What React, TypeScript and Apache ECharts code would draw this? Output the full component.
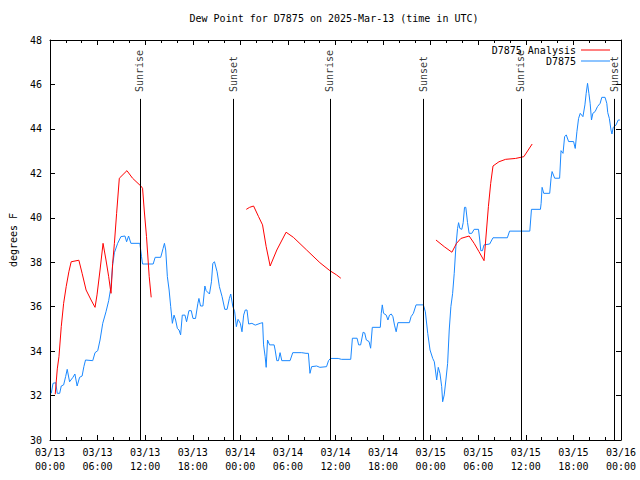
import React, { useEffect, useRef } from 'react';
import * as echarts from 'echarts';

// Hours since 2025-03-13 00:00 UTC, dew point in °F
const dewPointObs: [number, number][] = [
  [0.16, 32.1], [0.38, 32.55], [0.72, 32.58], [0.92, 32.1], [1.22, 32.1], [1.42, 32.43], [1.72, 32.48],
  [1.97, 32.85], [2.17, 33.18], [2.47, 32.62], [2.89, 32.82], [3.14, 32.97], [3.42, 32.43], [3.73, 32.82],
  [4.05, 32.88], [4.27, 33.3], [4.48, 33.6], [5.39, 33.57], [5.68, 33.93], [6.02, 34.02], [6.31, 34.5],
  [6.65, 35.25], [7.06, 35.77], [7.4, 36.27], [7.69, 36.9], [7.9, 37.88], [8.12, 38.43], [8.53, 38.85],
  [8.94, 39.15], [9.45, 39.18], [9.66, 38.92], [9.91, 39.18], [10.2, 38.85], [11.33, 38.85], [11.54, 38.25],
  [11.67, 37.92], [11.88, 37.92], [13.01, 37.92], [13.26, 38.22], [13.96, 38.22], [14.26, 38.62], [14.43, 38.85],
  [14.59, 38.55], [14.8, 37.35], [15.02, 36.75], [15.22, 36.0], [15.43, 35.25], [15.64, 35.62], [15.84, 35.4],
  [16.06, 35.02], [16.27, 34.95], [16.47, 34.73], [16.68, 35.62], [17.02, 35.62], [17.22, 35.32], [17.52, 35.82],
  [17.81, 35.82], [18.03, 35.47], [18.35, 35.47], [18.65, 36.15], [18.78, 36.37], [18.98, 36.03], [19.28, 36.03],
  [19.53, 36.93], [19.69, 36.72], [20.11, 36.57], [20.36, 37.12], [20.53, 37.95], [20.74, 38.02], [21.07, 37.57],
  [21.36, 36.9], [21.7, 36.45], [22.04, 35.88], [22.33, 35.88], [22.62, 36.37], [22.79, 36.57], [23.04, 36.03],
  [23.29, 35.77], [23.5, 35.1], [23.71, 35.43], [24.0, 35.25], [24.21, 34.87], [24.42, 35.62], [24.62, 35.85],
  [24.84, 35.85], [25.05, 35.22], [25.46, 35.25], [25.88, 35.17], [26.51, 35.25], [26.81, 35.28], [26.93, 34.28],
  [27.13, 33.75], [27.26, 33.27], [27.43, 34.5], [27.69, 34.28], [28.26, 34.28], [28.39, 34.05], [28.6, 33.57],
  [28.81, 33.57], [29.01, 33.93], [29.23, 33.57], [30.27, 33.57], [30.61, 33.93], [31.74, 33.93], [32.28, 33.9],
  [32.58, 33.9], [32.78, 33.0], [32.99, 33.3], [33.62, 33.33], [34.03, 33.27], [34.87, 33.3], [35.12, 33.57],
  [35.37, 33.67], [36.34, 33.67], [36.75, 33.63], [37.92, 33.63], [38.13, 34.58], [38.72, 34.58], [38.92, 34.28],
  [39.17, 34.28], [39.48, 34.85], [39.68, 34.82], [39.89, 34.5], [40.23, 34.43], [40.43, 34.13], [40.64, 35.07],
  [41.65, 35.07], [41.77, 35.7], [41.9, 36.08], [42.06, 35.7], [42.4, 35.62], [42.61, 35.4], [42.81, 35.62],
  [43.03, 35.67], [43.24, 35.55], [43.44, 35.17], [43.65, 34.87], [43.87, 35.28], [45.32, 35.28], [45.53, 35.55],
  [45.82, 35.7], [46.16, 36.08], [47.08, 36.08], [47.33, 35.77], [47.63, 34.8], [47.92, 34.05], [48.26, 33.67],
  [48.46, 33.52], [48.76, 32.7], [48.96, 33.27], [49.17, 33.0], [49.39, 32.4], [49.51, 31.72], [49.71, 32.03],
  [49.92, 32.7], [50.14, 33.45], [50.34, 34.95], [50.55, 36.0], [50.77, 36.6], [50.97, 37.5], [51.18, 38.7],
  [51.39, 39.52], [51.52, 39.78], [51.68, 39.52], [51.93, 39.48], [52.1, 39.78], [52.27, 40.47], [52.43, 40.47],
  [52.65, 39.78], [52.85, 39.3], [53.19, 39.3], [53.48, 39.48], [54.03, 39.48], [54.19, 39.0], [54.32, 38.52],
  [54.53, 38.52], [54.73, 38.78], [55.44, 38.82], [55.86, 39.1], [57.67, 39.1], [57.95, 39.4], [60.5, 39.4],
  [60.71, 40.38], [61.84, 40.38], [61.93, 40.65], [62.05, 41.37], [62.26, 41.1], [63.01, 41.1], [63.18, 41.78],
  [63.31, 42.08], [63.64, 41.78], [64.26, 41.78], [64.44, 43.02], [64.69, 42.9], [64.89, 43.65], [65.1, 43.73],
  [65.39, 43.43], [66.02, 43.43], [66.23, 43.12], [66.44, 43.87], [66.65, 44.47], [66.86, 44.7], [67.2, 44.55],
  [67.45, 45.08], [67.61, 45.6], [67.78, 46.05], [67.95, 45.6], [68.11, 45.15], [68.28, 44.4], [68.45, 44.7],
  [68.74, 44.78], [69.03, 45.0], [69.37, 45.15], [69.58, 45.42], [69.99, 45.42], [70.21, 45.15], [70.33, 44.73],
  [70.53, 44.47], [70.74, 43.95], [70.86, 43.77], [71.02, 44.07], [71.36, 44.17], [71.65, 44.4], [71.86, 44.4],
];

const analysisRun1: [number, number][] = [
  [0.66, 32.06], [0.92, 33.2], [1.13, 33.75], [1.42, 35.1], [1.72, 36.15], [2.04, 36.9], [2.38, 37.57],
  [2.67, 38.02], [3.64, 38.09], [4.05, 37.5], [4.55, 36.75], [5.18, 36.3], [5.68, 35.97], [5.93, 36.53],
  [6.31, 37.65], [6.69, 38.85], [7.06, 38.1], [7.4, 37.35], [7.69, 36.6], [7.9, 37.95], [8.12, 38.85],
  [8.4, 40.2], [8.74, 41.78], [9.7, 42.12], [10.41, 41.78], [11.45, 41.43], [11.67, 41.33], [11.88, 40.35],
  [12.17, 39.15], [12.51, 37.35], [12.76, 36.42],
];

const analysisRun2: [number, number][] = [
  [24.75, 40.38], [25.17, 40.47], [25.67, 40.53], [26.3, 40.05], [26.8, 39.68], [27.26, 38.7], [27.76, 37.83],
  [28.6, 38.55], [29.77, 39.35], [30.69, 39.12], [32.36, 38.55], [34.03, 37.98], [35.29, 37.62], [36.13, 37.43],
  [36.67, 37.28],
];

const analysisRun3: [number, number][] = [
  [48.67, 39.0], [49.71, 38.7], [50.68, 38.45], [51.26, 38.85], [51.81, 39.07], [52.85, 39.18], [53.48, 38.85],
  [54.1, 38.47], [54.73, 38.07], [54.94, 39.0], [55.28, 40.5], [55.57, 41.55], [55.86, 42.33], [56.61, 42.52],
  [57.45, 42.63], [58.7, 42.67], [59.75, 42.75], [60.8, 43.32],
];

const sunriseHours = [11.33, 35.29, 59.37];
const sunsetHours = [23.12, 47.08, 71.16];
const sunLineTop = 45.35;
const sunLabelBase = 45.66;

const titleText = 'Dew Point for D7875 on 2025-Mar-13 (time in UTC)';
const yName = 'degrees F';
const analysisName = 'D7875 Analysis';
const obsName = 'D7875';

const MONO = '"DejaVu Sans Mono", "Liberation Mono", monospace';

function xLabel(v: number): string {
  const day = 13 + Math.floor(v / 24 + 1e-9);
  const hh = Math.round(v - (day - 13) * 24);
  return `03/${day}\n${String(hh).padStart(2, '0')}:00`;
}

export default function App() {
  const ref = useRef<HTMLDivElement>(null);
  useEffect(() => {
    if (!ref.current) return;
    const chart = echarts.init(ref.current, null, { renderer: 'svg' });
    const axisLine = { show: true, onZero: false, lineStyle: { color: '#000', width: 1 } };
    const xCommon = {
      type: 'value' as const,
      min: 0,
      max: 72,
      interval: 6,
      axisLine,
      axisTick: { show: true, inside: true, length: 5, lineStyle: { color: '#000' } },
      minorTick: { show: true, splitNumber: 3, length: 3, lineStyle: { color: '#000' } },
      splitLine: { show: false },
    };
    const yCommon = {
      type: 'value' as const,
      min: 30,
      max: 48,
      interval: 2,
      axisLine,
      axisTick: { show: true, inside: true, length: 5, lineStyle: { color: '#000' } },
      splitLine: { show: false },
    };
    const sunLines = [
      ...sunriseHours.map((h) => [{ coord: [h, 30] }, { coord: [h, sunLineTop] }]),
      ...sunsetHours.map((h) => [{ coord: [h, 30] }, { coord: [h, sunLineTop] }]),
    ];
    const sunLabels = [
      ...sunriseHours.map((h) => [h, sunLabelBase, 'Sunrise']),
      ...sunsetHours.map((h) => [h, sunLabelBase, 'Sunset']),
    ];
    const lineBase = {
      type: 'line' as const,
      symbol: 'none',
      showSymbol: false,
      silent: true,
      xAxisIndex: 0,
      yAxisIndex: 0,
    };
    chart.setOption({
      animation: false,
      backgroundColor: '#fff',
      textStyle: { fontFamily: MONO },
      title: {
        text: titleText,
        left: 334,
        textAlign: 'center',
        top: 13,
        padding: 0,
        textStyle: { fontFamily: MONO, fontSize: 10, fontWeight: 'normal', color: '#000' },
      },
      legend: {
        data: [
          { name: analysisName, icon: 'rect' },
          { name: obsName, icon: 'rect' },
        ],
        orient: 'vertical',
        right: 30,
        top: 45,
        align: 'right',
        itemWidth: 29,
        itemHeight: 1,
        itemGap: 1,
        padding: 0,
        selectedMode: false,
        textStyle: { fontFamily: MONO, fontSize: 10, color: '#000' },
      },
      grid: { left: 47, right: 19, top: 40, bottom: 40, containLabel: false },
      xAxis: [
        {
          ...xCommon,
          position: 'bottom',
          axisLabel: {
            show: true,
            formatter: xLabel,
            fontFamily: MONO,
            fontSize: 10,
            color: '#000',
            lineHeight: 14,
            margin: 5,
            showMaxLabel: true,
            showMinLabel: true,
          },
        },
        { ...xCommon, position: 'top', axisLabel: { show: false } },
      ],
      yAxis: [
        {
          ...yCommon,
          position: 'left',
          name: yName,
          nameLocation: 'middle',
          nameGap: 32,
          nameRotate: 90,
          nameTextStyle: { fontFamily: MONO, fontSize: 10, color: '#000' },
          axisLabel: { fontFamily: MONO, fontSize: 10, color: '#000', margin: 8 },
        },
        { ...yCommon, position: 'right', axisLabel: { show: false } },
      ],
      series: [
        {
          type: 'scatter',
          name: 'sun',
          silent: true,
          symbolSize: 0,
          data: sunLabels,
          label: {
            show: true,
            position: 'inside',
            formatter: (p: any) => p.value[2],
            rotate: 90,
            align: 'left',
            verticalAlign: 'middle',
            fontFamily: MONO,
            fontSize: 10,
            color: '#000',
          },
          markLine: {
            silent: true,
            symbol: ['none', 'none'],
            label: { show: false },
            lineStyle: { color: '#000', width: 1, type: 'solid' },
            data: sunLines,
          },
          z: 1,
        },
        {
          ...lineBase,
          name: analysisName,
          data: analysisRun1,
          lineStyle: { color: '#ff0000', width: 1 },
          itemStyle: { color: '#ff0000' },
          z: 3,
        },
        {
          ...lineBase,
          name: analysisName,
          data: analysisRun2,
          lineStyle: { color: '#ff0000', width: 1 },
          itemStyle: { color: '#ff0000' },
          z: 3,
        },
        {
          ...lineBase,
          name: analysisName,
          data: analysisRun3,
          lineStyle: { color: '#ff0000', width: 1 },
          itemStyle: { color: '#ff0000' },
          z: 3,
        },
        {
          ...lineBase,
          name: obsName,
          data: dewPointObs,
          lineStyle: { color: '#1a88ff', width: 1 },
          itemStyle: { color: '#1a88ff' },
          z: 2,
        },
      ],
    });
    return () => chart.dispose();
  }, []);
  return (
    <div
      ref={ref}
      style={{ position: 'fixed', left: 0, top: 0, width: 640, height: 480, background: '#fff' }}
    />
  );
}
